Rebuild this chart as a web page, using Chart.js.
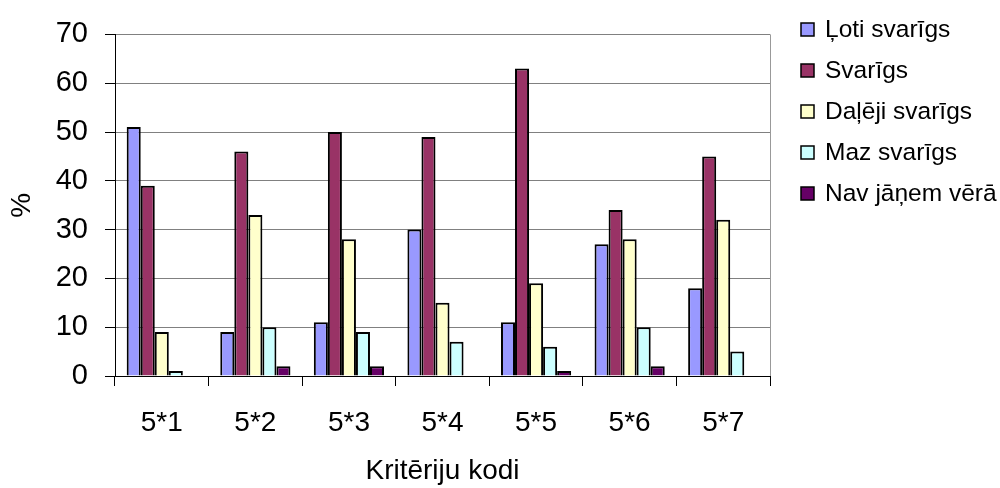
<!DOCTYPE html>
<html lang="lv">
<head>
<meta charset="UTF-8">
<title>Kritēriju kodi</title>
<script src="https://cdn.jsdelivr.net/npm/chart.js"></script>
<style>
  html, body { margin: 0; padding: 0; background: #fff; }
  #box { width: 1000px; height: 488px; }
</style>
</head>
<body>
<div id="box"><canvas id="chart"></canvas></div>
<script>
const categories = ["5*1", "5*2", "5*3", "5*4", "5*5", "5*6", "5*7"];
const seriesNames = ["Ļoti svarīgs", "Svarīgs", "Daļēji svarīgs", "Maz svarīgs", "Nav jāņem vērā"];
const lotiSvarigs = [51, 9, 11, 30, 11, 27, 18];
const svarigs = [39, 46, 50, 49, 63, 34, 45];
const dalejiSvarigs = [9, 33, 28, 15, 19, 28, 32];
const mazSvarigs = [1, 10, 9, 7, 6, 10, 5];
const navJanemVera = [0, 2, 2, 0, 1, 2, 0];
const colors = ["#9999ff", "#993366", "#ffffcc", "#ccffff", "#660066"];

const FONT = "'Liberation Sans', Arial, sans-serif";
const allValues = [lotiSvarigs, svarigs, dalejiSvarigs, mazSvarigs, navJanemVera];

// legend + right border of the plot area
const extras = {
  id: "extras",
  beforeDatasetsDraw(chart) {
    const a = chart.chartArea, ctx = chart.ctx;
    ctx.save();
    ctx.strokeStyle = "#999999";
    ctx.lineWidth = 1;
    ctx.beginPath();
    ctx.moveTo(a.right + 0.5, a.top);
    ctx.lineTo(a.right + 0.5, a.bottom);
    ctx.stroke();
    ctx.restore();
  },
  afterDraw(chart) {
    const ctx = chart.ctx;
    ctx.save();
    ctx.font = "24.5px " + FONT;
    ctx.textBaseline = "middle";
    chart.data.datasets.forEach((ds, i) => {
      const y = 29 + i * 41;
      ctx.fillStyle = ds.backgroundColor;
      ctx.fillRect(801, y - 6, 13, 13);
      ctx.strokeStyle = "#000";
      ctx.lineWidth = 1.5;
      ctx.strokeRect(801, y - 6, 13, 13);
      ctx.fillStyle = "#000";
      ctx.fillText(ds.label, 825, y + 1);
    });
    ctx.restore();
  }
};

new Chart(document.getElementById("chart"), {
  type: "bar",
  data: {
    labels: categories,
    datasets: seriesNames.map((name, i) => ({
      label: name,
      data: allValues[i],
      backgroundColor: colors[i],
      borderColor: "#000",
      borderWidth: 2,
      categoryPercentage: 0.75,
      barPercentage: 1
    }))
  },
  options: {
    responsive: true,
    maintainAspectRatio: false,
    animation: false,
    layout: { padding: { top: 23, right: 230, left: 0, bottom: 0 } },
    plugins: { legend: { display: false }, tooltip: { enabled: false } },
    scales: {
      x: {
        grid: { drawOnChartArea: false, color: "#000", tickLength: 10, offset: true },
        border: { color: "#000", width: 1 },
        ticks: { color: "#000", font: { family: FONT, size: 28 }, padding: 20, maxRotation: 0 },
        title: { display: true, text: "Kritēriju kodi", color: "#000", font: { family: FONT, size: 28 }, padding: { top: 0, bottom: 0 } },
        afterFit(scale) { scale.height = 112; }
      },
      y: {
        min: 0,
        max: 70,
        ticks: { stepSize: 10, color: "#000", font: { family: FONT, size: 29 }, padding: 17 },
        grid: { color: "#808080", tickColor: "#000", tickLength: 10 },
        border: { color: "#000", width: 1 },
        title: { display: true, text: "%", color: "#000", font: { family: FONT, size: 28 }, padding: { top: 5, bottom: 0 } },
        afterFit(scale) { scale.width = 115; }
      }
    }
  },
  plugins: [extras]
});
</script>
</body>
</html>
